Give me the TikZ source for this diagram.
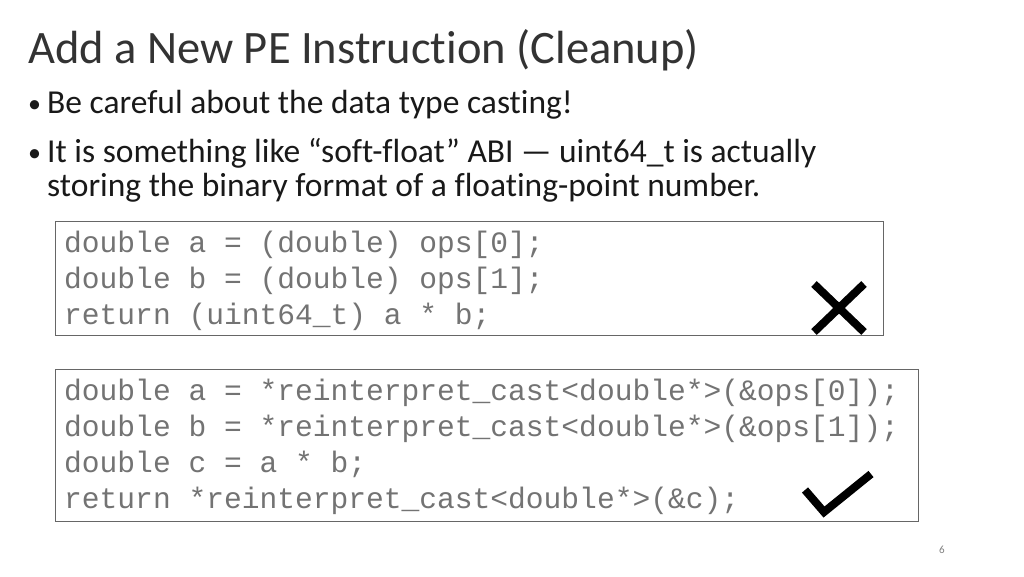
\documentclass[tikz,border=0pt]{standalone}
\usepackage{fontspec}
\setmainfont[Ligatures={NoCommon}]{Carlito}
\newfontfamily\codefont{Liberation Mono}
\begin{document}
\begin{tikzpicture}[x=1pt,y=-1pt,
  codebox/.style={draw=black!60,line width=0.8pt},
  codeline/.style={anchor=base west,inner sep=0,font=\codefont\fontsize{29.6}{30}\selectfont,text=black!55},
  bul/.style={anchor=base west,inner sep=0,font=\fontsize{33.5}{36}\selectfont,text=black!90}]
\useasboundingbox (0,0) rectangle (1024,576);
\fill[white] (0,0) rectangle (1024,576);
\node[anchor=base west,inner sep=0,font=\fontsize{46.5}{50}\selectfont,text=black!80] (title) at (28,63) {Add a New PE Instruction (Cleanup)};
\node[bul,font=\fontsize{26}{30}\selectfont] (b1d) at (28,112) {•};
\node[bul] (b1) at (47,113) {Be careful about the data type casting!};
\node[bul,font=\fontsize{26}{30}\selectfont] (b2d) at (28,161) {•};
\node[bul] (b2) at (47,162) {It is something like “soft-float” ABI — uint64\_t is actually};
\node[bul] (b3) at (47,196) {storing the binary format of a floating-point number.};
\draw[codebox] (55,221) rectangle (883,335);
\node[codeline] (l1) at (64,252) {double a = (double) ops[0];};
\node[codeline] (l2) at (64,288) {double b = (double) ops[1];};
\node[codeline] (l3) at (64,324) {return (uint64\_t) a * b;};
\draw[line width=8pt] (814,284) -- (864,332) (864,284) -- (814,332);
\draw[codebox] (55,369) rectangle (918,521);
\node[codeline] (m1) at (64,400) {double a = *reinterpret\_cast<double*>(\&ops[0]);};
\node[codeline] (m2) at (64,436) {double b = *reinterpret\_cast<double*>(\&ops[1]);};
\node[codeline] (m3) at (64,472) {double c = a * b;};
\node[codeline] (m4) at (64,508) {return *reinterpret\_cast<double*>(\&c);};
\draw[line width=8pt] (805,490) -- (824,512) -- (871,474);
\node[anchor=base,inner sep=0,font=\fontsize{11}{12}\selectfont,text=black!50] (pg) at (942,553) {6};
\end{tikzpicture}
\end{document}
